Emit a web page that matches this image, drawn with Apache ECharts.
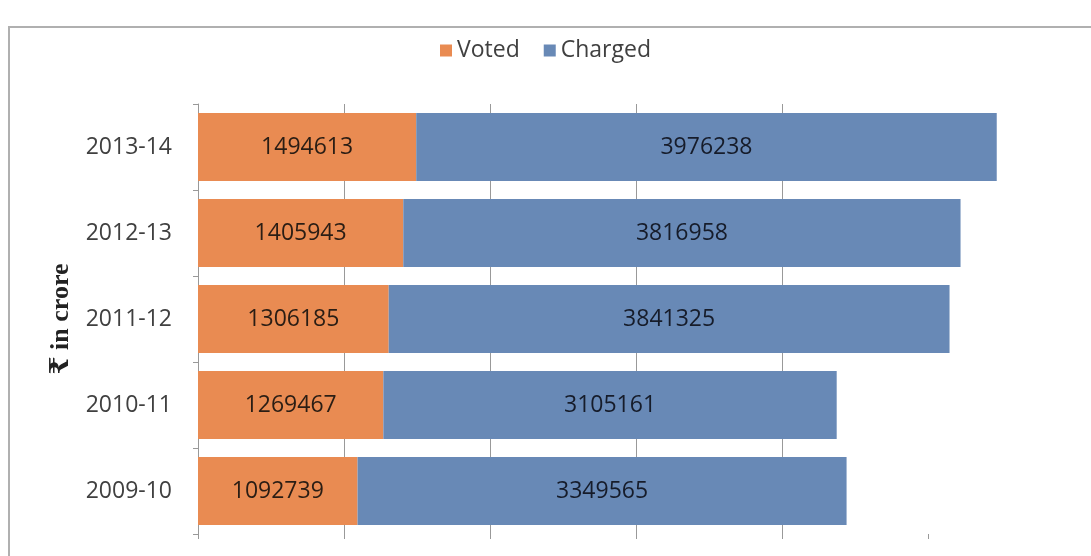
<!DOCTYPE html>
<html>
<head>
<meta charset="UTF-8">
<title>Voted and Charged</title>
<script src="https://cdn.jsdelivr.net/npm/echarts@6/dist/echarts.min.js"></script>
<style>
  body { margin: 0; background: #fff; }
</style>
</head>
<body>
	<div id="main" style="width: 1091px; height: 556px;"></div>

	<script type="text/javascript">
		// 数据
		var years = ['2009-10', '2010-11', '2011-12', '2012-13', '2013-14'];
		var voted = [1092739, 1269467, 1306185, 1405943, 1494613];
		var charged = [3349565, 3105161, 3841325, 3816958, 3976238];
		var tickValues = [0, 1000000, 2000000, 3000000, 4000000, 5000000];

		var myChart = echarts.init(document.getElementById('main'));
		var font = '"Open Sans", sans-serif';

		myChart.setOption({
			animation : false,
			backgroundColor : '#fff',
			graphic : [ {
				type : 'polyline',
				shape : { points : [ [ 9, 556 ], [ 9, 27 ], [ 1091, 27 ] ] },
				style : { stroke : '#b0b0b0', lineWidth : 2, fill : null }
			} ],
			legend : {
				data : [ 'Voted', 'Charged' ],
				top : 34,
				left : 'center',
				itemWidth : 12,
				itemHeight : 12,
				itemGap : 24,
				icon : 'rect',
				textStyle : { fontFamily : font, fontSize : 23, color : '#404040' }
			},
			grid : { left : 198, right : 17, top : 104, bottom : 22 },
			xAxis : {
				type : 'value',
				min : 0,
				max : 6000000,
				interval : 1000000,
				axisLine : { show : false },
				axisTick : { show : true, length : 5, customValues : tickValues, lineStyle : { color : '#999' } },
				axisLabel : { show : false },
				splitLine : { show : true, showMaxLine : false, lineStyle : { color : '#999', width : 1 } }
			},
			yAxis : {
				type : 'category',
				data : years,
				name : '₹ in crore',
				nameLocation : 'middle',
				nameRotate : 90,
				nameGap : 124,
				nameTextStyle : { fontFamily : '"Liberation Serif", "DejaVu Serif", serif', fontWeight : 'bold', fontSize : 26, color : '#222' },
				axisLine : { show : true, lineStyle : { color : '#999' } },
				axisTick : { show : true, length : 5, lineStyle : { color : '#999' } },
				axisLabel : { margin : 26, fontFamily : font, fontSize : 23, color : '#404040' }
			},
			series : [ {
				name : 'Voted',
				type : 'bar',
				stack : 'total',
				barWidth : 68,
				itemStyle : { color : '#E98B52' },
				label : { show : true, position : 'inside', fontFamily : font, fontSize : 23, color : '#2a1d14' },
				data : voted
			}, {
				name : 'Charged',
				type : 'bar',
				stack : 'total',
				barWidth : 68,
				itemStyle : { color : '#6889B6' },
				label : { show : true, position : 'inside', fontFamily : font, fontSize : 23, color : '#161c2a' },
				data : charged
			} ]
		});
	</script>
</body>
</html>
